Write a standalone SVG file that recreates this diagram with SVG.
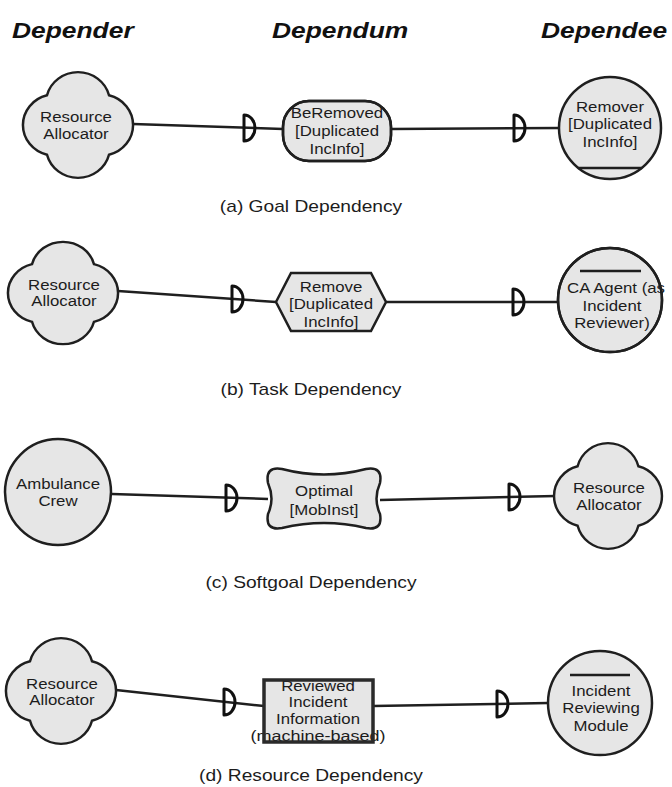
<svg xmlns="http://www.w3.org/2000/svg" xmlns:xlink="http://www.w3.org/1999/xlink" width="672" height="787" viewBox="0 0 672 787">
  <style>
    .bg { fill: #ffffff; }
    .shape { fill: #e6e6e6; stroke: #1f1f1f; stroke-width: 2.5; }
    .outline { fill: none; stroke: #1f1f1f; stroke-width: 2.5; }
    .res { fill: none; stroke: #2a2a2a; stroke-width: 3.5; }
    .conn { fill: none; stroke: #1f1f1f; stroke-width: 2.5; }
    .dsym { fill: none; stroke: #111111; stroke-width: 3; stroke-linejoin: round; }
    .lbl { font-family: "Liberation Sans", Arial, sans-serif; font-size: 15px; fill: #1c1c1c; text-anchor: middle; }
    .cap { font-family: "Liberation Sans", Arial, sans-serif; font-size: 16px; fill: #1c1c1c; text-anchor: middle; }
    .head { font-family: "Liberation Sans", Arial, sans-serif; font-size: 22px; font-weight: bold; font-style: italic; fill: #111111; }
  </style>
  <defs>
    <!-- four-lobed actor cloud, 110 x 110, centred on the origin -->
    <path id="cloud" d="M-31,-31 A32,32 0 0 1 31,-31 A32,32 0 0 1 31,31 A32,32 0 0 1 -31,31 A32,32 0 0 1 -31,-31 Z"/>
    <!-- dependency "D" mark -->
    <path id="dmark" d="M0,-13 A11,13 0 0 1 0,13 Z"/>
    <clipPath id="clipRes"><rect x="265" y="681" width="107" height="60"/></clipPath>
  </defs>

  <rect class="bg" x="0" y="0" width="672" height="787"/>

  <!-- column headings -->
  <g id="headings">
    <text class="head" transform="translate(12,38) scale(1.2 1)">Depender</text>
    <text class="head" transform="translate(272,38) scale(1.2 1)">Dependum</text>
    <text class="head" transform="translate(541,38) scale(1.2 1)">Dependee</text>
  </g>

  <!-- connectors with dependency marks -->
  <g id="connectors">
    <path class="conn" d="M133,124 L283,129"/>
    <path class="conn" d="M391,129 L560,128"/>
    <path class="conn" d="M118,291 L276,302"/>
    <path class="conn" d="M386,302 L558,302"/>
    <path class="conn" d="M112,494 L268,499"/>
    <path class="conn" d="M380,500 L556,496"/>
    <path class="conn" d="M116,690 L264,706"/>
    <path class="conn" d="M373,706 L548,703"/>
    <use href="#dmark" class="dsym" transform="translate(244,128)"/>
    <use href="#dmark" class="dsym" transform="translate(514,128)"/>
    <use href="#dmark" class="dsym" transform="translate(232,299)"/>
    <use href="#dmark" class="dsym" transform="translate(513,302)"/>
    <use href="#dmark" class="dsym" transform="translate(226,498)"/>
    <use href="#dmark" class="dsym" transform="translate(509,497)"/>
    <use href="#dmark" class="dsym" transform="translate(224,702)"/>
    <use href="#dmark" class="dsym" transform="translate(497,704)"/>
  </g>

  <!-- (a) goal dependency -->
  <g id="a-depender">
    <use href="#cloud" class="shape" transform="translate(78,125) scale(1 0.96)"/>
    <text class="lbl" transform="translate(76,122) scale(1.12 1)">Resource</text>
    <text class="lbl" transform="translate(76,139) scale(1.12 1)">Allocator</text>
  </g>
  <g id="a-dependum">
    <rect class="shape" x="283" y="101" width="108" height="60" rx="26"/>
    <text class="lbl" transform="translate(337,118) scale(1.12 1)">BeRemoved</text>
    <text class="lbl" transform="translate(337,136) scale(1.12 1)">[Duplicated</text>
    <text class="lbl" transform="translate(337,154) scale(1.12 1)">IncInfo]</text>
    <rect class="outline" x="283" y="101" width="108" height="60" rx="26"/>
  </g>
  <g id="a-dependee">
    <circle class="shape" cx="610" cy="128" r="51"/>
    <path class="outline" d="M578,168 L642,168"/>
    <text class="lbl" transform="translate(610,112) scale(1.12 1)">Remover</text>
    <text class="lbl" transform="translate(610,129) scale(1.12 1)">[Duplicated</text>
    <text class="lbl" transform="translate(610,147) scale(1.12 1)">IncInfo]</text>
  </g>
  <text class="cap" transform="translate(311,212) scale(1.2 1)">(a) Goal Dependency</text>

  <!-- (b) task dependency -->
  <g id="b-depender">
    <use href="#cloud" class="shape" transform="translate(63,293) scale(1 0.93)"/>
    <text class="lbl" transform="translate(64,290) scale(1.12 1)">Resource</text>
    <text class="lbl" transform="translate(64,306) scale(1.12 1)">Allocator</text>
  </g>
  <g id="b-dependum">
    <polygon class="shape" points="276,302 291,273 371,273 386,302 371,331 291,331"/>
    <text class="lbl" transform="translate(331,292) scale(1.12 1)">Remove</text>
    <text class="lbl" transform="translate(331,309) scale(1.12 1)">[Duplicated</text>
    <text class="lbl" transform="translate(331,327) scale(1.12 1)">IncInfo]</text>
  </g>
  <g id="b-dependee">
    <circle class="shape" cx="610" cy="300" r="52"/>
    <text class="lbl" transform="translate(616,293) scale(1.12 1)">CA Agent (as</text>
    <text class="lbl" transform="translate(612,311) scale(1.12 1)">Incident</text>
    <text class="lbl" transform="translate(612,328) scale(1.12 1)">Reviewer)</text>
    <circle class="outline" cx="610" cy="300" r="52"/>
    <path class="outline" d="M580,271 L641,271"/>
  </g>
  <text class="cap" transform="translate(311,395) scale(1.2 1)">(b) Task Dependency</text>

  <!-- (c) softgoal dependency -->
  <g id="c-depender">
    <circle class="shape" cx="58" cy="492" r="53"/>
    <text class="lbl" transform="translate(58,489) scale(1.12 1)">Ambulance</text>
    <text class="lbl" transform="translate(58,506) scale(1.12 1)">Crew</text>
  </g>
  <g id="c-dependum">
    <path class="shape" d="M282,469 Q324,480 366,469 Q383,466 380,483 Q373,499 380,514 Q383,531 366,528 Q324,518 282,528 Q265,531 268,514 Q275,499 268,483 Q265,466 282,469 Z"/>
    <text class="lbl" transform="translate(324,496) scale(1.12 1)">Optimal</text>
    <text class="lbl" transform="translate(324,515) scale(1.12 1)">[MobInst]</text>
  </g>
  <g id="c-dependee">
    <use href="#cloud" class="shape" transform="translate(608,496) scale(0.98 0.96)"/>
    <text class="lbl" transform="translate(609,493) scale(1.12 1)">Resource</text>
    <text class="lbl" transform="translate(609,510) scale(1.12 1)">Allocator</text>
  </g>
  <text class="cap" transform="translate(311,588) scale(1.2 1)">(c) Softgoal Dependency</text>

  <!-- (d) resource dependency -->
  <g id="d-depender">
    <use href="#cloud" class="shape" transform="translate(61,691) scale(1 0.96)"/>
    <text class="lbl" transform="translate(62,689) scale(1.12 1)">Resource</text>
    <text class="lbl" transform="translate(62,705) scale(1.12 1)">Allocator</text>
  </g>
  <g id="d-dependum">
    <rect x="264" y="680" width="109" height="62" fill="#e6e6e6"/>
    <g clip-path="url(#clipRes)">
      <text class="lbl" transform="translate(318,691) scale(1.12 1)">Reviewed</text>
    </g>
    <text class="lbl" transform="translate(318,707) scale(1.12 1)">Incident</text>
    <text class="lbl" transform="translate(318,724) scale(1.12 1)">Information</text>
    <text class="lbl" transform="translate(318,741) scale(1.2 1)">(machine-based)</text>
    <rect class="res" x="264" y="680" width="109" height="62"/>
  </g>
  <g id="d-dependee">
    <circle class="shape" cx="600" cy="703" r="52"/>
    <path class="outline" d="M570,675 L630,675"/>
    <text class="lbl" transform="translate(601,696) scale(1.12 1)">Incident</text>
    <text class="lbl" transform="translate(601,713) scale(1.12 1)">Reviewing</text>
    <text class="lbl" transform="translate(601,731) scale(1.12 1)">Module</text>
  </g>
  <text class="cap" transform="translate(311,781) scale(1.2 1)">(d) Resource Dependency</text>
</svg>
